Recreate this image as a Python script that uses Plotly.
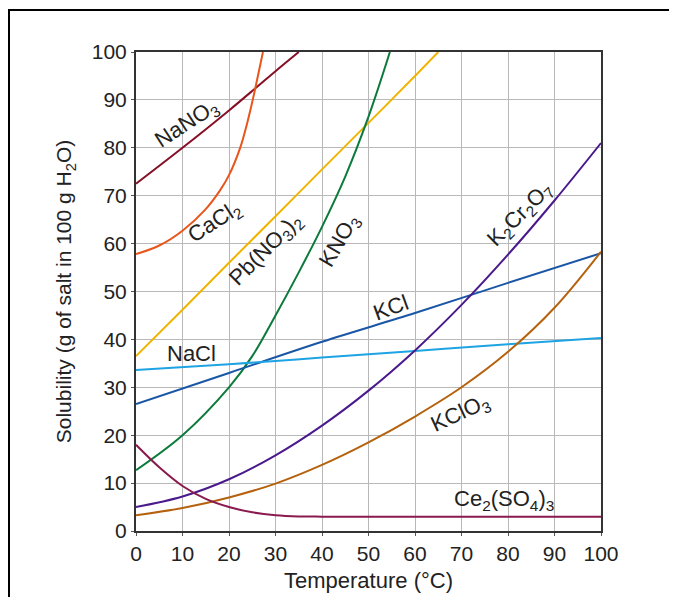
import plotly.graph_objects as go

# ---- data (temperature in °C, solubility in g / 100 g H2O) ----
nano3_t = [0, 10, 20, 26, 30, 35]
nano3_s = [72.5, 80, 87.8, 92.7, 96, 100]

cacl2_t = [0, 5, 10, 15, 18, 20, 22.4, 24, 25.1, 26, 27.3]
cacl2_s = [57.8, 59.6, 62.7, 67.2, 71, 74.3, 80, 85.5, 90, 94, 100]

pbno32_t = [0, 10, 20, 30, 40, 50, 60, 65]
pbno32_s = [36.5, 46.2, 56, 65.7, 75.5, 85.2, 95, 100]

kno3_t = [0, 10, 20, 25, 30, 35, 40, 45, 50, 54.6]
kno3_s = [12.7, 20, 30, 36.5, 45, 54, 63.5, 74, 86.5, 100]

kcl_t = [0, 20, 40, 60, 80, 100]
kcl_s = [26.5, 33, 39.5, 45.5, 51.8, 58]

nacl_t = [0, 20, 40, 60, 80, 100]
nacl_s = [33.6, 34.8, 36.2, 37.6, 39, 40.3]

k2cr2o7_t = [0, 10, 20, 30, 40, 50, 60, 70, 80, 90, 100]
k2cr2o7_s = [5, 7.2, 10.8, 15.8, 22, 29.3, 37.7, 47.2, 57.7, 69, 81]

kclo3_t = [0, 10, 20, 30, 40, 50, 60, 70, 80, 90, 100]
kclo3_s = [3.3, 4.8, 7, 9.9, 13.8, 18.5, 23.9, 30, 37.4, 46.6, 58.3]

ce2so43_t = [0, 5, 10, 15, 20, 25, 30, 35, 40, 50, 100]
ce2so43_s = [18, 13.3, 9.4, 6.7, 5, 3.9, 3.3, 3.05, 3, 3, 3]

x_ticks = list(range(0, 101, 10))
y_ticks = list(range(0, 101, 10))

series = [
    (nano3_t, nano3_s, "#861026"),
    (cacl2_t, cacl2_s, "#e8561c"),
    (pbno32_t, pbno32_s, "#f0b400"),
    (kno3_t, kno3_s, "#0b7a3b"),
    (kcl_t, kcl_s, "#1a56a6"),
    (nacl_t, nacl_s, "#1ea3e3"),
    (k2cr2o7_t, k2cr2o7_s, "#4a1a8c"),
    (kclo3_t, kclo3_s, "#b5620e"),
    (ce2so43_t, ce2so43_s, "#8a1a4e"),
]

# labels: text, x, y, angle
labels = [
    ("NaNO<sub>3</sub>", 11, 85, -33),
    ("CaCl<sub>2</sub>", 16.8, 64.4, -33),
    ("Pb(NO<sub>3</sub>)<sub>2</sub>", 28, 58.7, -45),
    ("KNO<sub>3</sub>", 43.9, 60.5, -60),
    ("K<sub>2</sub>Cr<sub>2</sub>O<sub>7</sub>", 82.6, 66, -45),
    ("KCl", 54.8, 46.7, -20),
    ("NaCl", 11.9, 37.1, 0),
    ("KClO<sub>3</sub>", 69.7, 24.4, -25),
    ("Ce<sub>2</sub>(SO<sub>4</sub>)<sub>3</sub>", 79.1, 6.4, 0),
]

FONT = "Liberation Sans, Arial, sans-serif"

fig = go.Figure()
for t, s, c in series:
    fig.add_trace(go.Scatter(x=t, y=s, mode="lines",
                             line=dict(color=c, width=2, shape="spline", smoothing=1.0),
                             hoverinfo="skip", showlegend=False))

for txt, x, y, ang in labels:
    fig.add_annotation(x=x, y=y, text=txt, textangle=ang, showarrow=False,
                       xanchor="center", yanchor="middle",
                       font=dict(family=FONT, size=22, color="#222222"))

# outer frame of the figure
fig.add_shape(type="rect", xref="paper", yref="paper",
              x0=(1 - 128) / 465, x1=1.6, y0=-0.4, y1=(523 - 2) / 479,
              line=dict(color="black", width=2), fillcolor="rgba(0,0,0,0)", layer="above")

fig.update_layout(
    width=669, height=589,
    margin=dict(l=128, r=76, t=44, b=66, autoexpand=False),
    paper_bgcolor="white", plot_bgcolor="white",
    font=dict(family=FONT, color="#222222"),
    xaxis=dict(range=[0, 100], tickvals=x_ticks, ticktext=[str(v) for v in x_ticks],
               showgrid=True, gridcolor="#b8b8b8", gridwidth=1,
               showline=True, linecolor="#333333", linewidth=2, mirror=True,
               ticks="outside", ticklen=3, tickcolor="#555555",
               tickfont=dict(size=21), zeroline=False, automargin=False,
               title=dict(text="Temperature (°C)", font=dict(size=22), standoff=8)),
    yaxis=dict(range=[0, 100], tickvals=y_ticks, ticktext=[str(v) for v in y_ticks],
               showgrid=True, gridcolor="#b8b8b8", gridwidth=1,
               showline=True, linecolor="#333333", linewidth=2, mirror=True,
               ticks="outside", ticklen=3, tickcolor="#555555",
               tickfont=dict(size=21), zeroline=False, automargin=False,
               title=dict(text="Solubility (g of salt in 100 g H<sub>2</sub>O)",
                          font=dict(size=21), standoff=14)),
)

fig.write_html("out.html")
